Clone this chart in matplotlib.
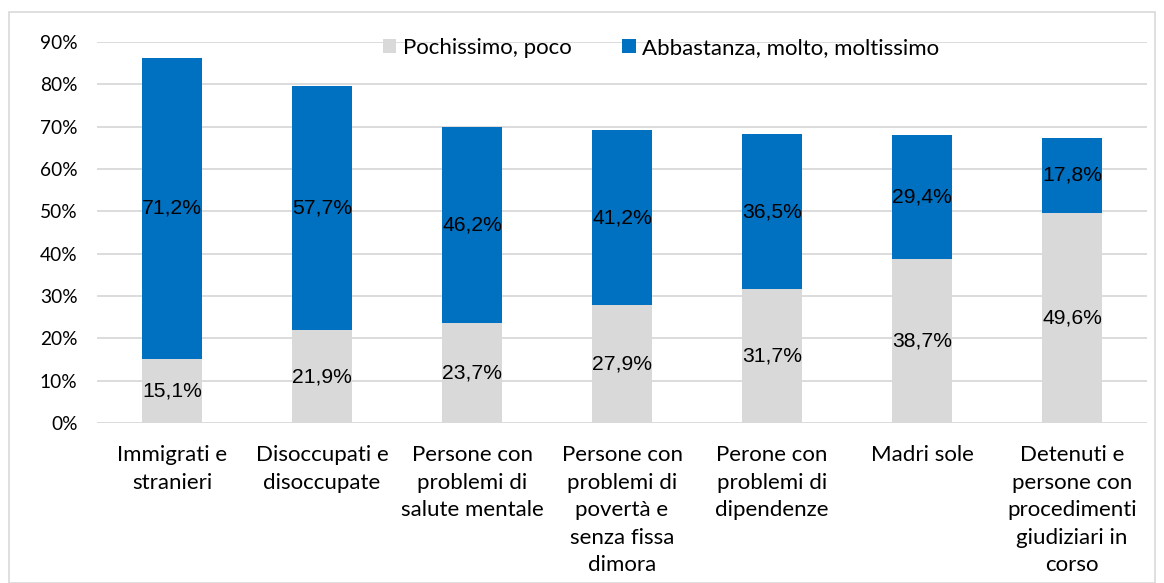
import matplotlib
matplotlib.use("Agg")
import matplotlib.pyplot as plt
from matplotlib.patches import Rectangle

categories = [
    "Immigrati e\nstranieri",
    "Disoccupati e\ndisoccupate",
    "Persone con\nproblemi di\nsalute mentale",
    "Persone con\nproblemi di\npovertà e\nsenza fissa\ndimora",
    "Perone con\nproblemi di\ndipendenze",
    "Madri sole",
    "Detenuti e\npersone con\nprocedimenti\ngiudiziari in\ncorso",
]
poco = [15.1, 21.9, 23.7, 27.9, 31.7, 38.7, 49.6]
molto = [71.2, 57.7, 46.2, 41.2, 36.5, 29.4, 17.8]
series_names = ["Pochissimo, poco", "Abbastanza, molto, moltissimo"]
yticks = [0, 10, 20, 30, 40, 50, 60, 70, 80, 90]

GRAY = "#D9D9D9"
BLUE = "#0070C0"
TICK_FONT = "Lato"
LABEL_FONT = "Liberation Sans"

fig = plt.figure(figsize=(11.64, 5.83), dpi=100)
ax = fig.add_axes([97/1164, 1 - 423/583, 1050/1164, (423-42)/583])

x = list(range(len(categories)))
b1 = ax.bar(x, poco, width=0.4, color=GRAY, label=series_names[0], zorder=3)
b2 = ax.bar(x, molto, width=0.4, bottom=poco, color=BLUE, label=series_names[1], zorder=3)

for xi, p, m in zip(x, poco, molto):
    ax.text(xi, p / 2, f"{p:.1f}%".replace(".", ","), ha="center", va="center",
            fontsize=15.2, family=LABEL_FONT, color="#000000", zorder=4)
    ax.text(xi, p + m / 2, f"{m:.1f}%".replace(".", ","), ha="center", va="center",
            fontsize=15.2, family=LABEL_FONT, color="#000000", zorder=4)

ax.set_xlim(-0.5, len(categories) - 0.5)
ax.set_ylim(0, 90)
ax.set_yticks(yticks)
ax.set_yticklabels([f"{t}%" for t in yticks], family=TICK_FONT, fontsize=13.8)
ax.set_xticks(x)
ax.set_xticklabels(categories, family=TICK_FONT, fontsize=16, linespacing=1.47)
ax.tick_params(axis="both", length=0, colors="#000000")
ax.tick_params(axis="y", pad=14)
ax.tick_params(axis="x", pad=16)
ax.grid(axis="y", color=GRAY, linewidth=1.3, zorder=0)
for s in ax.spines.values():
    s.set_visible(False)

leg = fig.legend(handles=[b1, b2], labels=series_names, loc="center",
                 bbox_to_anchor=(661/1164, 1 - 48/583), ncol=2, frameon=False,
                 prop={"family": TICK_FONT, "size": 16}, handlelength=0.6,
                 handleheight=0.6, handletextpad=0.3, columnspacing=2.3)

fig.patches.append(Rectangle((9/1164, 0), 1 - 18/1164, 1 - 12/583, transform=fig.transFigure,
                             fill=False, edgecolor="#D9D9D9", linewidth=1.2))

fig.savefig("out.png", dpi=100)
